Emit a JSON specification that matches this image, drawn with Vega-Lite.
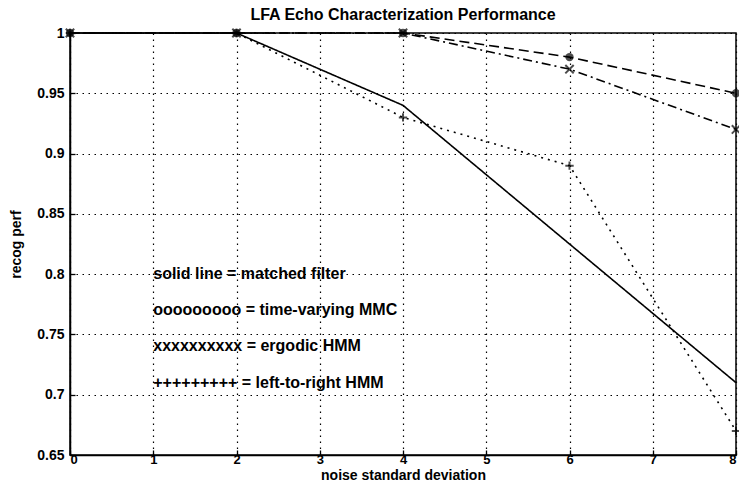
{
  "$schema": "https://vega.github.io/schema/vega-lite/v6.json",
  "width": 666,
  "height": 422,
  "autosize": {"type": "none"},
  "padding": {"left": 70, "top": 33, "right": 3, "bottom": 26},
  "background": "white",
  "title": {
    "text": "LFA Echo Characterization Performance",
    "fontSize": 16,
    "fontWeight": "bold",
    "font": "Liberation Sans",
    "color": "black",
    "offset": 2
  },
  "config": {
    "font": "Liberation Sans",
    "view": {"stroke": "black", "strokeWidth": 1.5},
    "axis": {
      "labelFont": "Liberation Sans",
      "labelFontSize": 14,
      "labelFontWeight": "bold",
      "labelColor": "black",
      "titleFont": "Liberation Sans",
      "titleFontSize": 14,
      "titleFontWeight": "bold",
      "titleColor": "black",
      "domainColor": "black",
      "domainWidth": 1.5,
      "grid": true,
      "gridColor": "black",
      "gridDash": [1.5, 4.5],
      "gridWidth": 1.2,
      "gridOpacity": 1,
      "ticks": true,
      "tickSize": -5,
      "tickColor": "black",
      "tickWidth": 1.3
    }
  },
  "datasets": {
    "curves": [
      {"model": "matched filter", "x": 0, "y": 1},
      {"model": "matched filter", "x": 2, "y": 1},
      {"model": "matched filter", "x": 4, "y": 0.94},
      {"model": "matched filter", "x": 8, "y": 0.71},
      {"model": "time-varying MMC", "x": 0, "y": 1},
      {"model": "time-varying MMC", "x": 2, "y": 1},
      {"model": "time-varying MMC", "x": 4, "y": 1},
      {"model": "time-varying MMC", "x": 6, "y": 0.98},
      {"model": "time-varying MMC", "x": 8, "y": 0.95},
      {"model": "ergodic HMM", "x": 0, "y": 1},
      {"model": "ergodic HMM", "x": 2, "y": 1},
      {"model": "ergodic HMM", "x": 4, "y": 1},
      {"model": "ergodic HMM", "x": 6, "y": 0.97},
      {"model": "ergodic HMM", "x": 8, "y": 0.92},
      {"model": "left-to-right HMM", "x": 0, "y": 1},
      {"model": "left-to-right HMM", "x": 2, "y": 1},
      {"model": "left-to-right HMM", "x": 4, "y": 0.93},
      {"model": "left-to-right HMM", "x": 6, "y": 0.89},
      {"model": "left-to-right HMM", "x": 8, "y": 0.67}
    ],
    "notes": [
      {"x": 1, "y": 0.8, "label": "solid line = matched filter"},
      {"x": 1, "y": 0.77, "label": "ooooooooo = time-varying MMC"},
      {"x": 1, "y": 0.74, "label": "xxxxxxxxxx = ergodic HMM"},
      {"x": 1, "y": 0.71, "label": "+++++++++ = left-to-right HMM"}
    ]
  },
  "encoding": {
    "x": {
      "field": "x",
      "type": "quantitative",
      "scale": {"domain": [0, 8], "nice": false, "zero": false},
      "axis": {
        "values": [0, 1, 2, 3, 4, 5, 6, 7, 8],
        "title": "noise standard deviation",
        "labelFontSize": 13,
        "labelPadding": 3,
        "titleY": 24,
        "titleBaseline": "alphabetic"
      }
    },
    "y": {
      "field": "y",
      "type": "quantitative",
      "scale": {"domain": [0.65, 1], "nice": false, "zero": false},
      "axis": {
        "values": [0.65, 0.7, 0.75, 0.8, 0.85, 0.9, 0.95, 1],
        "format": "~g",
        "title": "recog perf",
        "labelPadding": 11,
        "titleX": -47
      }
    }
  },
  "layer": [
    {
      "data": {"name": "curves"},
      "mark": {"type": "line", "color": "black", "strokeWidth": 1.6},
      "encoding": {
        "detail": {"field": "model"},
        "strokeDash": {
          "field": "model",
          "type": "nominal",
          "scale": {
            "domain": ["matched filter", "time-varying MMC", "ergodic HMM", "left-to-right HMM"],
            "range": [[1, 0], [10, 5], [9, 4, 2, 4], [2, 5]]
          },
          "legend": null
        }
      }
    },
    {
      "data": {"name": "curves"},
      "transform": [{"filter": "datum.model === 'time-varying MMC'"}],
      "mark": {"type": "point", "shape": "circle", "filled": true, "color": "black", "size": 70}
    },
    {
      "data": {"name": "curves"},
      "transform": [{"filter": "datum.model === 'ergodic HMM' || datum.model === 'left-to-right HMM'"}],
      "mark": {"type": "point", "filled": false, "color": "black", "strokeWidth": 2, "size": 70},
      "encoding": {
        "shape": {
          "field": "model",
          "type": "nominal",
          "scale": {
            "domain": ["ergodic HMM", "left-to-right HMM"],
            "range": ["M-1,-1L1,1M-1,1L1,-1", "M-1,0L1,0M0,-1L0,1"]
          },
          "legend": null
        }
      }
    },
    {
      "data": {"name": "notes"},
      "mark": {
        "type": "text",
        "align": "left",
        "baseline": "middle",
        "font": "Liberation Sans",
        "fontSize": 16,
        "fontWeight": "bold",
        "color": "black"
      },
      "encoding": {"text": {"field": "label"}}
    }
  ]
}
